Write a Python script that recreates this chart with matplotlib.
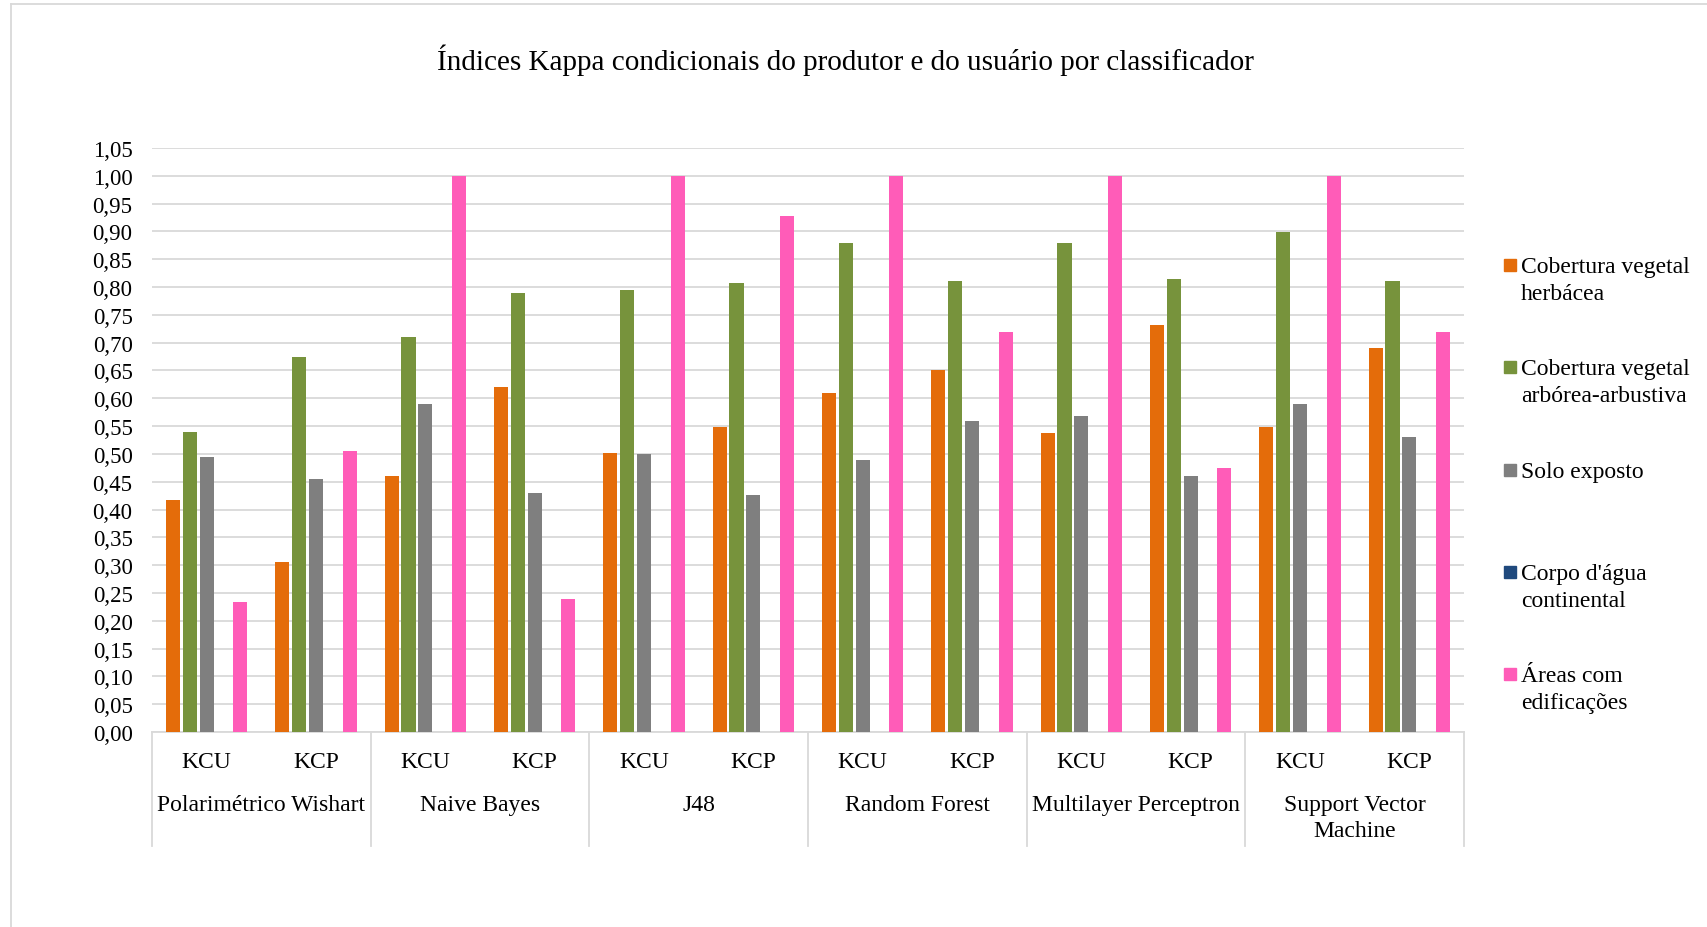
import numpy as np
import matplotlib
matplotlib.use("Agg")
import matplotlib.pyplot as plt
from matplotlib.patches import Rectangle
from matplotlib.ticker import FuncFormatter, MultipleLocator

plt.rcParams["font.family"] = ["Liberation Serif", "DejaVu Serif"]

TITLE = "Índices Kappa condicionais do produtor e do usuário por classificador"

classifiers = [
    "Polarimétrico Wishart",
    "Naive Bayes",
    "J48",
    "Random Forest",
    "Multilayer Perceptron",
    "Support Vector\nMachine",
]
indices = ["KCU", "KCP"]

series_names = [
    "Cobertura vegetal\nherbácea",
    "Cobertura vegetal\narbórea-arbustiva",
    "Solo exposto",
    "Corpo d'água\ncontinental",
    "Áreas com\nedificações",
]
series_colors = ["#E46C0A", "#77933C", "#7F7F7F", "#1F497D", "#FF5CB8"]

# one value per category: (classifier, index) in order KCU, KCP
herbacea = [0.418, 0.305, 0.460, 0.620, 0.502, 0.548, 0.609, 0.650, 0.538, 0.731, 0.549, 0.690]
arborea = [0.540, 0.674, 0.711, 0.789, 0.794, 0.808, 0.879, 0.810, 0.880, 0.815, 0.899, 0.810]
solo = [0.494, 0.455, 0.589, 0.429, 0.499, 0.427, 0.489, 0.559, 0.569, 0.461, 0.589, 0.530]
agua = [0.0, 0.0, 0.0, 0.0, 0.0, 0.0, 0.0, 0.0, 0.0, 0.0, 0.0, 0.0]
edificacoes = [0.233, 0.506, 1.000, 0.239, 1.000, 0.927, 1.000, 0.719, 1.000, 0.474, 1.000, 0.719]

series = [herbacea, arborea, solo, agua, edificacoes]

W, H = 1707, 928
FS = 17
fig = plt.figure(figsize=(W / 100, H / 100), dpi=100)
ax = fig.add_axes([152 / W, 1 - 733 / H, (1464 - 152) / W, (733 - 149) / H])

n_cat = len(classifiers) * len(indices)
x = np.arange(n_cat)
step = 0.154
bar_w = 0.13
for i, (vals, color) in enumerate(zip(series, series_colors)):
    ax.bar(x + (i - 2) * step, vals, width=bar_w, color=color, zorder=3)

ax.set_xlim(-0.5, n_cat - 0.5)
ax.set_ylim(0, 1.05)
ax.yaxis.set_major_locator(MultipleLocator(0.05))
ax.yaxis.set_major_formatter(FuncFormatter(lambda v, _: f"{v:.2f}".replace(".", ",")))
ax.tick_params(axis="y", length=0, pad=14, labelsize=16.5)
ax.set_xticks([])
ax.grid(axis="y", color="#D9D9D9", linewidth=1.3, zorder=0)
for side in ["left", "right", "top"]:
    ax.spines[side].set_visible(False)
ax.spines["bottom"].set_color("#D9D9D9")
ax.spines["bottom"].set_linewidth(1.3)

# multi-level category labels
trans = ax.get_xaxis_transform()
for k in range(n_cat):
    ax.text(k, -0.05, indices[k % 2], transform=trans, ha="center", va="center", fontsize=FS)
for g, name in enumerate(classifiers):
    ax.text(2 * g + 0.5, -0.106, name, transform=trans, ha="center", va="top",
            fontsize=FS, linespacing=1.3)
for b in np.arange(-0.5, n_cat, 2):
    ax.plot([b, b], [0, -0.196], transform=trans, color="#D9D9D9", lw=1.3, clip_on=False)

fig.text(845 / W, 1 - 60 / H, TITLE, ha="center", va="center", fontsize=21)

# legend drawn by hand so the marker sits on the first line
leg_y = [266, 368, 471, 573, 675]
for name, color, yy in zip(series_names, series_colors, leg_y):
    fig.patches.append(Rectangle((1504 / W, 1 - (yy + 6) / H), 12 / W, 12 / H,
                                 transform=fig.transFigure, color=color))
    fig.text(1521 / W, 1 - (yy - 9) / H, name, ha="left", va="top",
             fontsize=FS, linespacing=1.38)

# chart area border
fig.add_artist(plt.Line2D([11 / W, 1], [1 - 5 / H, 1 - 5 / H], color="#D9D9D9", lw=1.3))
fig.add_artist(plt.Line2D([11 / W, 11 / W], [0, 1 - 5 / H], color="#D9D9D9", lw=1.3))

fig.savefig("out.png", dpi=100)
